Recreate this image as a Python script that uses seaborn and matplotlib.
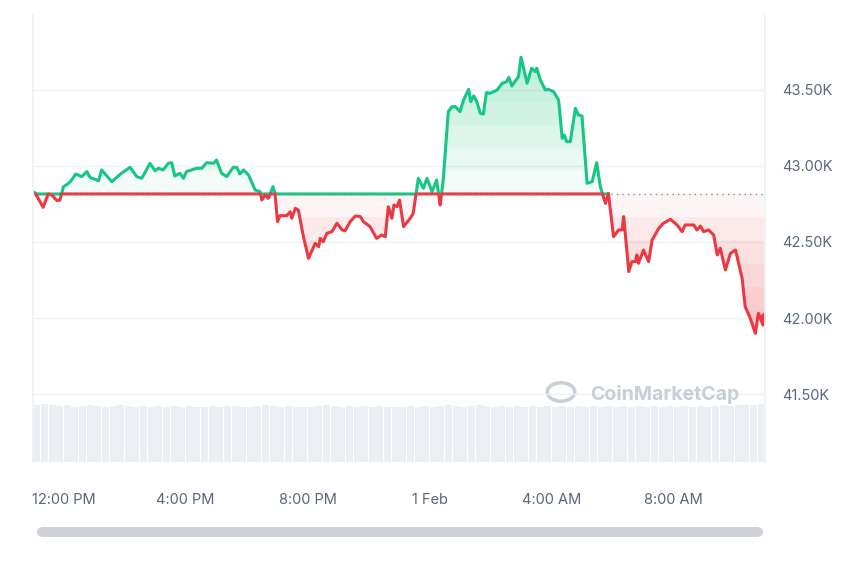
import numpy as np
import pandas as pd
import seaborn as sns
import matplotlib.pyplot as plt
from matplotlib.patches import FancyBboxPatch, Circle

# minutes since 11:00 AM (31 Jan) and price in USD
minutes = [0, 4, 20, 30, 37, 47, 53, 60, 70, 76, 84, 96, 106, 112, 129, 135, 155, 174, 191, 204,
           214, 230, 240, 247, 256, 266, 273, 279, 289, 296, 302, 322, 332, 342, 355, 361, 371, 381,
           394, 401, 407, 414, 424, 437, 447, 450, 457, 463, 472, 476, 481, 486, 499, 506, 509, 516,
           522, 532, 542, 555, 562, 565, 571, 578, 588, 598, 608, 614, 624, 634, 644, 650, 663, 676,
           686, 693, 699, 706, 710, 716, 721, 729, 742, 748, 758, 768, 775, 785, 794, 801, 807, 817,
           824, 831, 840, 847, 857, 861, 867, 873, 880, 886, 892, 899, 913, 923, 932, 936, 942, 955,
           960, 972, 981, 988, 991, 998, 1008, 1014, 1024, 1034, 1041, 1045, 1050, 1057, 1067, 1073,
           1080, 1090, 1100, 1109, 1116, 1126, 1132, 1142, 1152, 1159, 1162, 1172, 1178, 1185, 1188,
           1191, 1201, 1211, 1218, 1231, 1240, 1254, 1267, 1277, 1283, 1300, 1306, 1313, 1319, 1329,
           1339, 1346, 1352, 1362, 1372, 1382, 1395, 1401, 1411, 1421, 1427, 1436, 1440]
prices = [42830, 42824, 42728, 42816, 42809, 42772, 42776, 42864, 42886, 42908, 42947, 42930, 42963,
          42925, 42903, 42974, 42897, 42952, 42991, 42930, 42919, 43017, 42969, 42985, 42974, 43017,
          43022, 42934, 42952, 42919, 42963, 42985, 42985, 43022, 43017, 43039, 42952, 42930, 42991,
          42991, 42947, 42974, 42941, 42842, 42831, 42776, 42809, 42787, 42864, 42820, 42634, 42673,
          42673, 42699, 42656, 42721, 42710, 42535, 42392, 42491, 42469, 42524, 42502, 42557, 42568,
          42623, 42579, 42574, 42634, 42671, 42667, 42634, 42601, 42524, 42546, 42535, 42732, 42656,
          42743, 42732, 42776, 42601, 42656, 42689, 42919, 42853, 42919, 42831, 42908, 42743, 42908,
          43358, 43390, 43390, 43358, 43434, 43504, 43423, 43461, 43423, 43347, 43342, 43483, 43478,
          43500, 43544, 43555, 43583, 43526, 43588, 43715, 43544, 43643, 43621, 43643, 43566, 43500,
          43504, 43489, 43434, 43182, 43204, 43160, 43160, 43379, 43336, 43329, 42886, 42897, 43022,
          42864, 42754, 42820, 42535, 42579, 42579, 42667, 42305, 42371, 42371, 42415, 42360, 42447,
          42371, 42513, 42590, 42623, 42649, 42612, 42568, 42612, 42612, 42579, 42605, 42568, 42579,
          42546, 42415, 42459, 42316, 42425, 42447, 42261, 42075, 41998, 41899, 42031, 41954, 42009]
base_price = 42816

# volume (relative), one bar every 15 min
volume = [0.95, 0.97, 0.96, 0.94, 0.95, 0.93, 0.94, 0.95, 0.94, 0.93, 0.94, 0.95, 0.94, 0.93, 0.94, 0.93,
          0.94, 0.93, 0.94, 0.93, 0.94, 0.93, 0.93, 0.94, 0.93, 0.94, 0.94, 0.93, 0.93, 0.94, 0.95, 0.94,
          0.93, 0.94, 0.93, 0.92, 0.93, 0.94, 0.95, 0.94, 0.93, 0.94, 0.93, 0.94, 0.93, 0.94, 0.93, 0.92,
          0.93, 0.94, 0.93, 0.94, 0.93, 0.94, 0.95, 0.94, 0.93, 0.94, 0.95, 0.94, 0.93, 0.94, 0.93, 0.94,
          0.93, 0.94, 0.93, 0.94, 0.93, 0.94, 0.93, 0.94, 0.93, 0.94, 0.93, 0.94, 0.93, 0.94, 0.93, 0.94,
          0.93, 0.94, 0.93, 0.94, 0.93, 0.94, 0.93, 0.94, 0.93, 0.94, 0.95, 0.94, 0.95, 0.96, 0.96, 0.97]

tick_pos = [60, 300, 540, 780, 1020, 1260]
tick_labels = ['12:00 PM', '4:00 PM', '8:00 PM', '1 Feb', '4:00 AM', '8:00 AM']
y_ticks = [41500, 42000, 42500, 43000, 43500]
y_labels = ['41.50K', '42.00K', '42.50K', '43.00K', '43.50K']

GREEN = '#16c784'
RED = '#ea3943'
GREY = '#58667e'

sns.set_theme(style='white')
plt.rcParams['font.family'] = ['Inter', 'DejaVu Sans']

fig = plt.figure(figsize=(8.6, 5.73), dpi=100)
ax = fig.add_axes([33/860, 111/573, 732/860, 447/573])

# split the line into above / below baseline, adding crossing points
t = np.array(minutes, float)
p = np.array(prices, float)
tt, pp = [t[0]], [p[0]]
for i in range(1, len(t)):
    a, b = p[i-1] - base_price, p[i] - base_price
    if a * b < 0:
        f = a / (a - b)
        tt.append(t[i-1] + f * (t[i] - t[i-1]))
        pp.append(base_price)
    tt.append(t[i]); pp.append(p[i])
tt, pp = np.array(tt), np.array(pp)
up = np.where(pp >= base_price, pp, np.nan)
dn = np.where(pp <= base_price, pp, np.nan)

# volume bars on a twin axis
vax = ax.twinx()
vt = np.arange(len(volume)) * 15 + 7.5
vax.bar(vt, volume, width=14, color='#e9edf2', alpha=0.9, linewidth=0)
vax.set_ylim(0, 7.5)
vax.axis('off')
ax.set_zorder(vax.get_zorder() + 1)
ax.patch.set_visible(False)

# gradient-ish fills
for k, a in enumerate(np.linspace(0.02, 0.14, 6)):
    lvl_up = base_price + (43720 - base_price) * k / 6
    ax.fill_between(tt, np.maximum(lvl_up, base_price), up, where=up >= lvl_up,
                    color=GREEN, alpha=0.05, linewidth=0, interpolate=True)
    lvl_dn = base_price - (base_price - 41900) * k / 6
    ax.fill_between(tt, dn, np.minimum(lvl_dn, base_price), where=dn <= lvl_dn,
                    color=RED, alpha=0.05, linewidth=0, interpolate=True)

df = pd.DataFrame({'t': tt, 'up': up, 'dn': dn})
sns.lineplot(data=df, x='t', y='up', ax=ax, color=GREEN, linewidth=2.2)
sns.lineplot(data=df, x='t', y='dn', ax=ax, color=RED, linewidth=2.2)
ax.plot(t[-1], p[-1], 'o', color=RED, markersize=6)
ax.axhline(base_price, color='#888888', linestyle=(0, (1, 3)), linewidth=1)

ax.set_xlim(0, 1440)
ax.set_ylim(41053, 43993)
ax.yaxis.tick_right()
ax.set_yticks(y_ticks)
ax.set_yticklabels(y_labels)
ax.set_xticks(tick_pos)
ax.set_xticklabels(tick_labels)
ax.tick_params(axis='both', colors=GREY, labelsize=10.5, length=0)
ax.tick_params(axis='x', pad=22)
ax.tick_params(axis='y', pad=12)
ax.grid(axis='y', color='#eff2f5', linewidth=1)
ax.set_xlabel('')
ax.set_ylabel('')
for s in ['top', 'bottom']:
    ax.spines[s].set_visible(False)
for s in ['left', 'right']:
    ax.spines[s].set_color('#eff2f5')

# watermark
fig.add_artist(Circle((561/860, 1 - 392/573), 0.016, transform=fig.transFigure,
                      fill=False, edgecolor='#c8ced8', linewidth=2.5))
fig.text(590/860, 1 - 394/573, 'CoinMarketCap', color='#c8ced8', fontsize=14,
         fontweight='bold', va='center')

# scrollbar
fig.add_artist(FancyBboxPatch((37/860, 1 - 537/573), 726/860, 10/573,
                              boxstyle='round,pad=0,rounding_size=0.008',
                              transform=fig.transFigure, color='#cfd3d8', linewidth=0))

fig.savefig('out.png', dpi=100)
